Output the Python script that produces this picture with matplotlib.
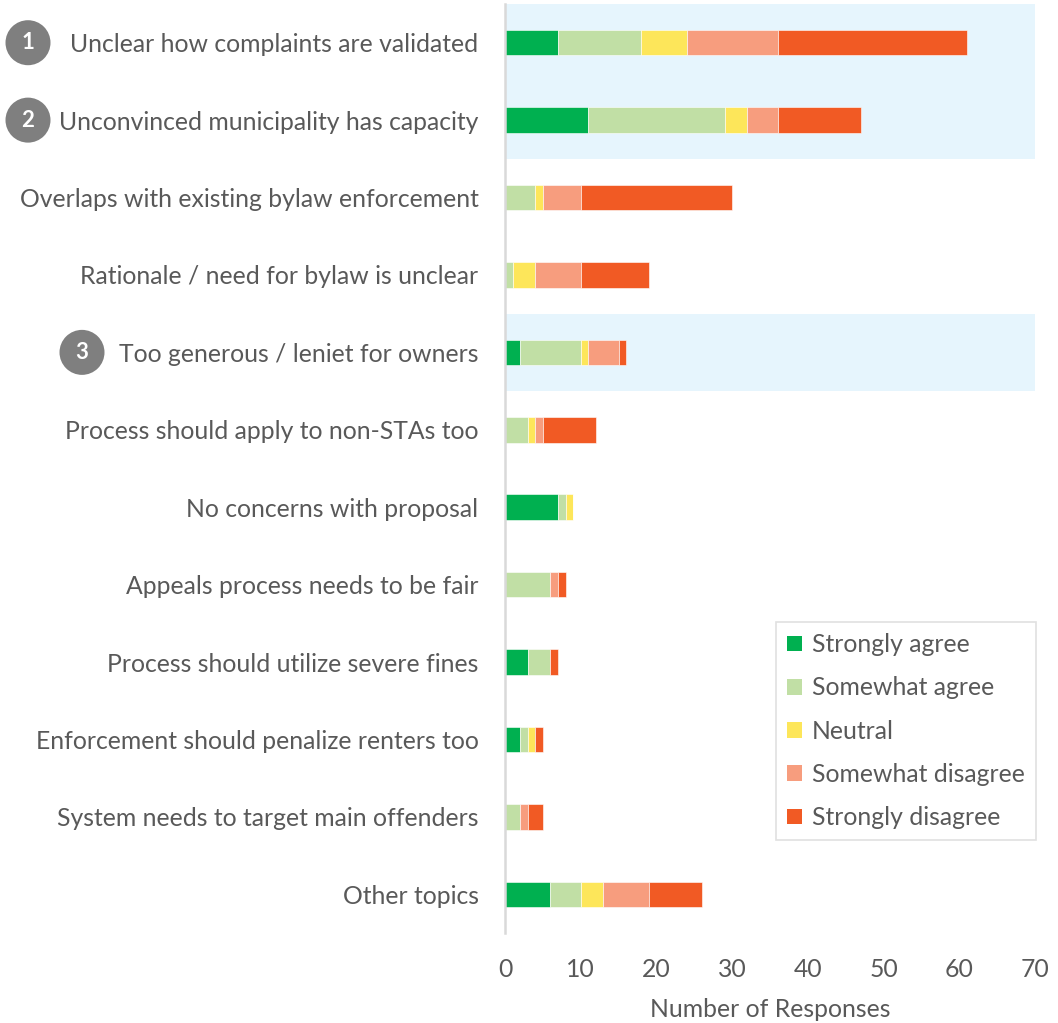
import matplotlib
matplotlib.use("Agg")
import matplotlib.pyplot as plt
from matplotlib.patches import Circle, Patch

plt.rcParams['font.family'] = ['Lato', 'DejaVu Sans']

categories = [
    "Unclear how complaints are validated",
    "Unconvinced municipality has capacity",
    "Overlaps with existing bylaw enforcement",
    "Rationale / need for bylaw is unclear",
    "Too generous / leniet for owners",
    "Process should apply to non-STAs too",
    "No concerns with proposal",
    "Appeals process needs to be fair",
    "Process should utilize severe fines",
    "Enforcement should penalize renters too",
    "System needs to target main offenders",
    "Other topics",
]

series_names = ["Strongly agree", "Somewhat agree", "Neutral",
                "Somewhat disagree", "Strongly disagree"]

strongly_agree    = [7, 11, 0, 0, 2, 0, 7, 0, 3, 2, 0, 6]
somewhat_agree    = [11, 18, 4, 1, 8, 3, 1, 6, 3, 1, 2, 4]
neutral           = [6, 3, 1, 3, 1, 1, 1, 0, 0, 1, 0, 3]
somewhat_disagree = [12, 4, 5, 6, 4, 1, 0, 1, 0, 0, 1, 6]
strongly_disagree = [25, 11, 20, 9, 1, 7, 0, 1, 1, 1, 2, 7]

series = [strongly_agree, somewhat_agree, neutral,
          somewhat_disagree, strongly_disagree]
colors = ["#00B050", "#C1DFA5", "#FDE65A", "#F79D7E", "#F15A24"]

# highlighted rows and their numbered markers
highlight_spans = [(-0.5, 1.5), (3.5, 4.5)]
markers = [("1", 0, 28), ("2", 1, 28), ("3", 4, 82)]

text_color = "#595959"
FS = 17.8
W, H, DPI = 1058, 1023, 100
fig = plt.figure(figsize=(W / DPI, H / DPI), dpi=DPI)
ax = fig.add_axes([505 / W, 1 - 933 / H, 530 / W, 929 / H])

for lo, hi in highlight_spans:
    ax.axhspan(lo, hi, color="#E6F5FD", zorder=0, lw=0)

y = list(range(len(categories)))
left = [0] * len(categories)
for vals, c, name in zip(series, colors, series_names):
    ax.barh(y, vals, left=left, height=0.33, color=c, label=name, zorder=2,
            edgecolor="white", linewidth=0.4)
    left = [l + v for l, v in zip(left, vals)]

ax.set_xlim(0, 70)
ax.set_ylim(len(categories) - 0.5, -0.5)
ax.set_yticks(y)
ax.set_yticklabels(categories)
ax.set_xticks(range(0, 71, 10))
ax.tick_params(axis='y', length=0, pad=19, labelsize=FS, labelcolor=text_color)
ax.tick_params(axis='x', length=0, pad=18, labelsize=FS, labelcolor=text_color)
for s in ["top", "right", "bottom"]:
    ax.spines[s].set_visible(False)
ax.spines["left"].set_color("#D9D9D9")
ax.spines["left"].set_linewidth(1.8)
ax.set_xlabel("Number of Responses", fontsize=FS, color=text_color, labelpad=12)

handles = [Patch(facecolor=c, label=n) for c, n in zip(colors, series_names)]
leg = fig.legend(handles=handles, loc="upper right",
                 bbox_to_anchor=(1036 / W, 1 - 622 / H),
                 bbox_transform=fig.transFigure, frameon=True, fancybox=False,
                 fontsize=FS, labelcolor=text_color, handlelength=0.6,
                 handleheight=0.6, handletextpad=0.4, labelspacing=0.82,
                 borderpad=0.45, borderaxespad=0)
leg.get_frame().set_edgecolor("#D9D9D9")
leg.get_frame().set_linewidth(1.2)

for label, row, xpx in markers:
    ypx = ax.transData.transform((0, row))[1]
    circ = Circle((xpx, ypx), 22.5, transform=None, facecolor="#7F7F7F",
                  edgecolor="none")
    fig.add_artist(circ)
    fig.text(xpx / W, ypx / H, label, color="white", fontsize=16,
             fontweight="bold", ha="center", va="center")

fig.savefig("out.png", dpi=DPI)
